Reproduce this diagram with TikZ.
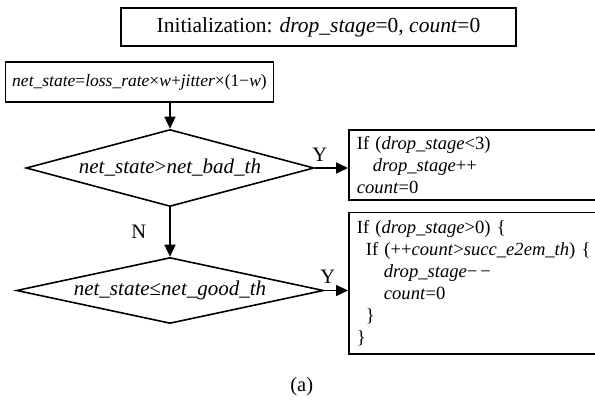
\documentclass[tikz,border=0pt]{standalone}
\usepackage{fontspec}
\setmainfont{Liberation Serif}
\usetikzlibrary{shapes.geometric,arrows.meta,positioning,calc}

\begin{document}
\begin{tikzpicture}[x=1pt,y=-1pt,
		box/.style={draw, line width=1.8pt, inner sep=0pt,
			font=\fontsize{#1}{22}\selectfont},
		cond/.style={draw, diamond, aspect=5, line width=1.6pt, inner sep=0pt,
			font=\fontsize{21}{24}\selectfont},
		code/.style={draw, line width=1.8pt, anchor=north west, align=left,
			text width=320pt, inner xsep=8pt, inner ysep=0pt,
			font=\fontsize{18.6}{22}\selectfont},
		arr/.style={-{Triangle[length=12pt,width=11pt]}, line width=1.6pt},
		lbl/.style={font=\fontsize{20.5}{24}\selectfont, inner sep=0pt}
		]
		\clip (0,0) rectangle (595,401);
		% Top boxes
		\node[box=21.5, line width=2pt, minimum width=395pt, minimum height=38pt] (init) at (318.5,27.5)
			{Initialization: \textit{drop\_stage}=0, \textit{count}=0};
		\node[box=17.5, minimum width=268pt, minimum height=40pt] (state) at (139.5,82)
			{\textit{net\_state}=\textit{loss\_rate}×\textit{w}+\textit{jitter}×(1−\textit{w})};
		
		% Decisions
		\node[cond, minimum width=288pt, minimum height=77pt] (bad)  at (170,168)   {\textit{net\_state}>\textit{net\_bad\_th}};
		\node[cond, minimum width=307pt, minimum height=66pt] (good) at (170,290.5) {\textit{net\_state}≤\textit{net\_good\_th}};
		
		% Actions (cut off at the right edge)
		\node[code, minimum height=70pt] (up) at (348,129.3)
			{If (\textit{drop\_stage}<3)\\
			\hspace*{16pt}\textit{drop\_stage}++\\
			\textit{count}=0};
		\node[code, minimum height=141pt] (down) at (348,211.7)
			{If (\textit{drop\_stage}>0) \{\\
			\hspace*{9pt}If (++\textit{count}>\textit{succ\_e2em\_th}) \{\\
			\hspace*{27pt}\textit{drop\_stage}−\,−\\
			\hspace*{27pt}\textit{count}=0\\
			\hspace*{9pt}\}\\
			\}};
		
		% Arrows
		\draw[arr] (state.south -| bad.north) -- (bad.north);
		\draw[arr] (bad.south) -- node[lbl, midway, left=23pt]{N} (good.north);
		\draw[arr] (bad.east) -- node[lbl, pos=0.15, above=6pt]{Y} (bad.east -| up.west);
		\draw[arr] (good.east) -- node[lbl, pos=0.15, above=6pt]{Y} (good.east -| down.west);
		
		\node[lbl] (cap) at (301.7,386.7) {(a)};
	\end{tikzpicture}
\end{document}
